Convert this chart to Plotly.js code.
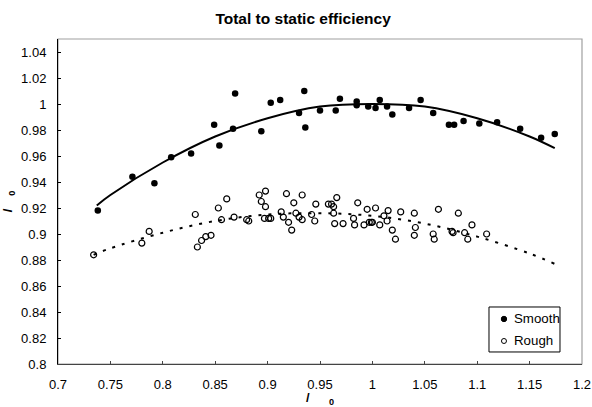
<!DOCTYPE html>
<html>
<head>
<meta charset="utf-8">
<script src="https://cdn.plot.ly/plotly-3.0.1.min.js"></script>
<style>html,body{margin:0;padding:0;background:#fff;}#chart{width:592px;height:407px;}</style>
</head>
<body>
<div id="chart"></div>
<script>
// Smooth series (filled markers)
var smoothX = [0.738,0.771,0.792,0.808,0.827,0.849,0.854,0.867,0.869,0.894,0.903,0.912,0.930,0.935,0.936,0.950,0.965,0.969,0.985,0.985,0.996,1.003,1.007,1.014,1.019,1.035,1.046,1.058,1.073,1.078,1.087,1.102,1.119,1.141,1.161,1.174];
var smoothY = [0.918,0.944,0.939,0.959,0.962,0.984,0.968,0.981,1.008,0.979,1.001,1.003,0.993,1.010,0.982,0.995,0.995,1.004,1.002,0.999,0.998,0.997,1.003,0.998,0.992,0.997,1.003,0.993,0.984,0.984,0.987,0.985,0.986,0.981,0.974,0.977];
// Rough series (open markers)
var roughX = [0.734,0.780,0.787,0.831,0.833,0.837,0.841,0.846,0.853,0.856,0.861,0.868,0.880,0.882,0.892,0.894,0.898,0.898,0.897,0.901,0.903,0.913,0.915,0.918,0.920,0.923,0.925,0.927,0.930,0.933,0.933,0.942,0.945,0.946,0.958,0.961,0.963,0.966,0.963,0.964,0.972,0.982,0.983,0.986,0.992,0.995,0.997,0.999,1.000,1.003,1.007,1.011,1.014,1.015,1.019,1.022,1.027,1.040,1.041,1.040,1.058,1.059,1.063,1.076,1.077,1.082,1.088,1.091,1.095,1.109];
var roughY = [0.884,0.893,0.902,0.915,0.890,0.895,0.898,0.899,0.920,0.911,0.927,0.913,0.911,0.910,0.930,0.925,0.921,0.933,0.912,0.912,0.912,0.917,0.913,0.931,0.909,0.903,0.924,0.916,0.913,0.930,0.911,0.915,0.910,0.923,0.923,0.923,0.921,0.928,0.916,0.908,0.908,0.912,0.907,0.924,0.907,0.919,0.909,0.909,0.909,0.920,0.907,0.914,0.910,0.918,0.903,0.896,0.917,0.916,0.905,0.899,0.900,0.896,0.919,0.902,0.901,0.916,0.901,0.896,0.907,0.900];
// Trend lines
var smoothFitX = [0.737,0.75,0.8,0.85,0.9,0.95,1.0,1.05,1.1,1.15,1.174];
var smoothFitY = [0.922,0.930,0.955,0.975,0.989,0.998,1.000,0.998,0.989,0.975,0.966];
var roughFitX = [0.734,0.75,0.8,0.85,0.9,0.95,1.0,1.05,1.1,1.15,1.174];
var roughFitY = [0.884,0.889,0.901,0.910,0.915,0.916,0.914,0.908,0.898,0.885,0.877];
// Ticks and labels
var xTickVals = [0.7,0.75,0.8,0.85,0.9,0.95,1,1.05,1.1,1.15,1.2];
var xTickText = ['0.7','0.75','0.8','0.85','0.9','0.95','1','1.05','1.1','1.15','1.2'];
var yTickVals = [0.8,0.82,0.84,0.86,0.88,0.9,0.92,0.94,0.96,0.98,1,1.02,1.04];
var yTickText = ['0.8','0.82','0.84','0.86','0.88','0.9','0.92','0.94','0.96','0.98','1','1.02','1.04'];
var seriesNames = ['Smooth', 'Rough'];

var FONT = 'Arial, "Liberation Sans", sans-serif';

var traces = [
  {x: smoothFitX, y: smoothFitY, mode: 'lines', line: {color: '#000', width: 2, shape: 'spline'}, showlegend: false, hoverinfo: 'skip'},
  {x: roughFitX, y: roughFitY, mode: 'lines', line: {color: '#000', width: 2, dash: '3px,7px', shape: 'spline'}, showlegend: false, hoverinfo: 'skip'},
  {x: smoothX, y: smoothY, mode: 'markers', name: seriesNames[0], showlegend: false, marker: {symbol: 'circle', size: 6.5, color: '#000'}},
  {x: roughX, y: roughY, mode: 'markers', name: seriesNames[1], showlegend: false, marker: {symbol: 'circle-open', size: 6, color: '#000', line: {width: 1.2, color: '#000'}}}
];

// custom legend (box, symbols, labels) in paper coordinates
var legX0 = 0.8225, legX1 = 0.958, legY0 = 0.037, legY1 = 0.1754;
var annotations = [
  {xref: 'paper', yref: 'paper', x: 0.8664, y: 0.1385, xanchor: 'left', yanchor: 'middle', showarrow: false,
   text: seriesNames[0], font: {family: FONT, size: 13.3, color: '#000'}},
  {xref: 'paper', yref: 'paper', x: 0.8664, y: 0.0708, xanchor: 'left', yanchor: 'middle', showarrow: false,
   text: seriesNames[1], font: {family: FONT, size: 13.3, color: '#000'}}
];
var shapes = [
  {type: 'rect', xref: 'paper', yref: 'paper', x0: 0, x1: 1, y0: 0, y1: 1, line: {color: '#a0a0a0', width: 1.2}, layer: 'below'},
  {type: 'rect', xref: 'paper', yref: 'paper', x0: legX0, x1: legX1, y0: legY0, y1: legY1, line: {color: '#000', width: 1}, fillcolor: '#fff', layer: 'above'},
  {type: 'circle', xref: 'paper', yref: 'paper', xsizemode: 'pixel', ysizemode: 'pixel', xanchor: 0.8511, yanchor: 0.1385,
   x0: -2.7, x1: 2.7, y0: -2.7, y1: 2.7, line: {color: '#000', width: 1}, fillcolor: '#000', layer: 'above'},
  {type: 'circle', xref: 'paper', yref: 'paper', xsizemode: 'pixel', ysizemode: 'pixel', xanchor: 0.8511, yanchor: 0.0708,
   x0: -2.5, x1: 2.5, y0: -2.5, y1: 2.5, line: {color: '#000', width: 1}, fillcolor: '#fff', layer: 'above'}
];

var layout = {
  width: 592, height: 407,
  margin: {l: 58, r: 10, t: 39, b: 43, pad: 0},
  paper_bgcolor: '#fff', plot_bgcolor: '#fff',
  font: {family: FONT, size: 13, color: '#000'},
  title: {text: 'Total to static efficiency', font: {family: FONT, size: 15.5, weight: 'bold', color: '#000'},
          x: 0.512, xref: 'container', xanchor: 'center', y: 0.955, yref: 'container', yanchor: 'middle'},
  xaxis: {
    range: [0.7, 1.2], tickmode: 'array', tickvals: xTickVals, ticktext: xTickText,
    showgrid: false, zeroline: false, showline: true, linecolor: '#444', linewidth: 1.2,
    ticks: 'inside', ticklen: 3, tickcolor: '#444', tickfont: {family: FONT, size: 13, color: '#000'},
    ticklabelstandoff: 8,
    title: {text: '\u2003/\u2003\u2002<sub>0</sub>', font: {family: FONT, size: 13, weight: 'bold', color: '#000'}, standoff: 6}
  },
  yaxis: {
    range: [0.8, 1.05], tickmode: 'array', tickvals: yTickVals, ticktext: yTickText,
    showgrid: false, zeroline: false, showline: true, linecolor: '#000', linewidth: 1,
    ticks: 'inside', ticklen: 3, tickcolor: '#000', tickfont: {family: FONT, size: 13, color: '#000'},
    ticklabelstandoff: 8,
    title: {text: '\u2003/\u2003<sub>0</sub>', font: {family: FONT, size: 13, weight: 'bold', color: '#000'}, standoff: 6}
  },
  shapes: shapes,
  annotations: annotations,
  showlegend: false
};

Plotly.newPlot('chart', traces, layout, {displayModeBar: false, staticPlot: true});
</script>
</body>
</html>
